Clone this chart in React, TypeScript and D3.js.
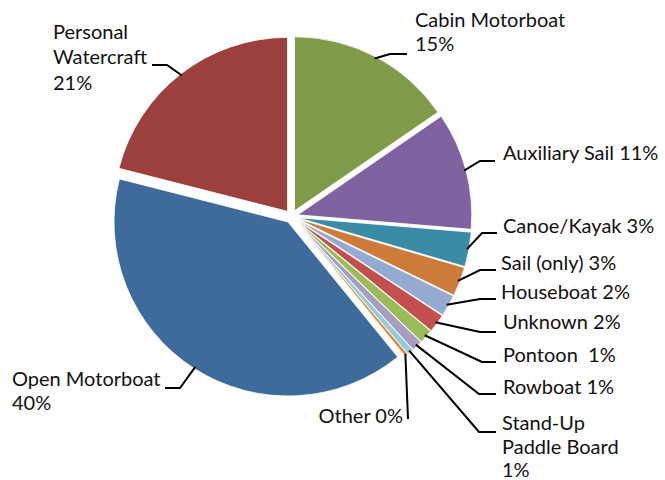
import React from "react";
import * as d3 from "d3";

const categories = [
  "Cabin Motorboat",
  "Auxiliary Sail",
  "Canoe/Kayak",
  "Sail (only)",
  "Houseboat",
  "Unknown",
  "Pontoon",
  "Rowboat",
  "Stand-Up Paddle Board",
  "Other",
  "Open Motorboat",
  "Personal Watercraft",
];
const values = [15.4, 10.9, 3.2, 2.7, 2.0, 1.7, 1.3, 1.0, 0.6, 0.3, 39.8, 21.0];
const colors = [
  "#7F9A48",
  "#7F63A1",
  "#3A8CA4",
  "#CC7B38",
  "#95AAD0",
  "#C3504E",
  "#9BBB59",
  "#A99CC1",
  "#93CDDD",
  "#E9822E",
  "#3F6B9C",
  "#9B403F",
];
// label text lines ("{p}" placeholder gets the percentage)
const labelLines: string[][] = [
  ["Cabin Motorboat", "{p}"],
  ["Auxiliary Sail {p}"],
  ["Canoe/Kayak {p}"],
  ["Sail (only) {p}"],
  ["Houseboat {p}"],
  ["Unknown {p}"],
  ["Pontoon  {p}"],
  ["Rowboat {p}"],
  ["Stand-Up", "Paddle Board", "{p}"],
  ["Other {p}"],
  ["Open Motorboat", "{p}"],
  ["Personal", "Watercraft", "{p}"],
];

// layout: text position and leader geometry
type Lay = { x: number; y: number; lh: number[]; anchor: string; ly: number; lx1: number; lx2: number; vertical?: boolean };
const layout: Lay[] = [
  { x: 415, y: 27, lh: [24], anchor: "start", ly: 54, lx1: 407, lx2: 390 },
  { x: 503, y: 160, lh: [], anchor: "start", ly: 161, lx1: 495, lx2: 480 },
  { x: 503, y: 233, lh: [], anchor: "start", ly: 233, lx1: 497, lx2: 482 },
  { x: 501, y: 270, lh: [], anchor: "start", ly: 270, lx1: 496, lx2: 480 },
  { x: 501, y: 299, lh: [], anchor: "start", ly: 299, lx1: 496, lx2: 480 },
  { x: 503, y: 329, lh: [], anchor: "start", ly: 332, lx1: 496, lx2: 480 },
  { x: 503, y: 362, lh: [], anchor: "start", ly: 362, lx1: 496, lx2: 482 },
  { x: 503, y: 394, lh: [], anchor: "start", ly: 394, lx1: 496, lx2: 479 },
  { x: 502, y: 430, lh: [24, 23], anchor: "start", ly: 432, lx1: 496, lx2: 479 },
  { x: 403, y: 423, lh: [], anchor: "end", ly: 419, lx1: 408, lx2: 408, vertical: true },
  { x: 12, y: 386, lh: [24], anchor: "start", ly: 388, lx1: 165, lx2: 180 },
  { x: 53, y: 39, lh: [25, 26], anchor: "start", ly: 65, lx1: 152, lx2: 167 },
];

const W = 665;
const H = 480;
const CX = 291.5;
const CY = 216.5;
const R = 174;
const EXPLODE = 6.5;

export default function App() {
  const total = d3.sum(values);
  const pie = d3
    .pie<number>()
    .sort(null)
    .value((d) => d)
    .startAngle(0)
    .endAngle(2 * Math.PI);
  const arcs = pie(values);
  const arcGen = d3.arc<d3.PieArcDatum<number>>().innerRadius(0).outerRadius(R);

  return (
    <svg
      width={W}
      height={H}
      style={{ position: "absolute", left: 0, top: 0, background: "#fff" }}
      fontFamily="Lato, 'Open Sans', sans-serif"
      fontSize={20}
    >
      <g transform={`translate(${CX},${CY})`}>
        {arcs.map((a, i) => {
          const mid = (a.startAngle + a.endAngle) / 2;
          const dx = Math.sin(mid) * EXPLODE;
          const dy = -Math.cos(mid) * EXPLODE;
          return (
            <path
              key={i}
              d={arcGen(a) || ""}
              fill={colors[i]}
              stroke="#fff"
              strokeWidth={0.8}
              transform={`translate(${dx},${dy})`}
            />
          );
        })}
      </g>
      {arcs.map((a, i) => {
        const mid = (a.startAngle + a.endAngle) / 2;
        const L = layout[i];
        const rr = R - 2;
        const px = CX + Math.sin(mid) * (EXPLODE + rr);
        const py = CY - Math.cos(mid) * (EXPLODE + rr);
        const pts: [number, number][] = L.vertical
          ? [
              [px, py],
              [L.lx1, L.ly],
            ]
          : [
              [px, py],
              [L.lx2, L.ly],
              [L.lx1, L.ly],
            ];
        const pct = Math.round((values[i] / total) * 100) + "%";
        let yy = L.y;
        return (
          <g key={"l" + i}>
            <path
              d={d3.line()(pts) || ""}
              fill="none"
              stroke="#000"
              strokeWidth={2}
            />
            <text textAnchor={L.anchor} fill="#111" style={{ whiteSpace: "pre" }}>
              {labelLines[i].map((t, j) => {
                if (j > 0) yy += L.lh[j - 1];
                return (
                  <tspan key={j} x={L.x} y={yy}>
                    {t.replace("{p}", pct)}
                  </tspan>
                );
              })}
            </text>
          </g>
        );
      })}
    </svg>
  );
}
